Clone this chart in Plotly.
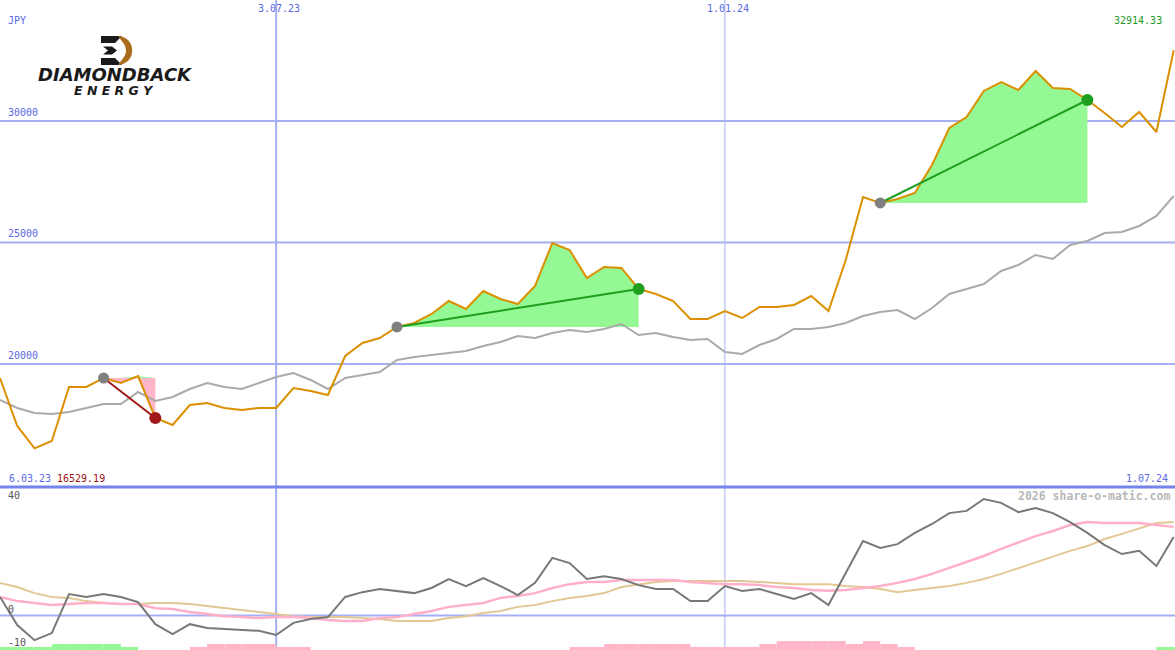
import pandas as pd
import plotly.graph_objects as go

# ---------------- data ----------------
start_date = "2023-03-13"
n_weeks = 69
dates = pd.date_range(start_date, periods=n_weeks, freq="7D")

price = [19424, 17449, 16529.19, 16831, 19053, 19053, 19424, 19218, 19500, 17778,
         17490, 18313, 18395, 18189, 18107, 18189, 18189, 19012, 18889, 18724,
         20329, 20864, 21070, 21523, 21687, 22058, 22593, 22263, 23004, 22675,
         22469, 23210, 24979, 24691, 23539, 23992, 23951, 23086, 22881, 22593,
         21852, 21852, 22181, 21893, 22346, 22346, 22428, 22798, 22181, 24280,
         26872, 26626, 26790, 27037, 28189, 29712, 30165, 31235, 31605, 31276,
         32058, 31358, 31317, 30864, 30329, 29753, 30370, 29547, 32914.33]

avg = [18519, 18189, 17984, 17942, 18025, 18189, 18354, 18354, 18848, 18477,
       18642, 18971, 19218, 19053, 18971, 19218, 19465, 19630, 19342, 18971,
       19424, 19547, 19671, 20165, 20288, 20370, 20453, 20535, 20741, 20905,
       21152, 21070, 21276, 21399, 21317, 21440, 21646, 21193, 21276, 21111,
       20988, 21029, 20494, 20412, 20782, 21029, 21440, 21440, 21523, 21687,
       21975, 22140, 22222, 21852, 22305, 22881, 23086, 23292, 23827, 24074,
       24486, 24321, 24897, 25062, 25391, 25432, 25679, 26091, 26914]

osc = [5.8, -3.0, -7.7, -5.5, 6.7, 5.8, 6.7, 5.8, 4.2, -2.7,
       -5.8, -2.7, -3.9, -4.2, -4.5, -4.8, -6.1, -2.3, -1.1, -0.5,
       5.8, 7.3, 8.3, 7.7, 7.0, 8.6, 11.4, 9.2, 11.7, 9.2,
       6.4, 10.2, 18.0, 16.4, 11.4, 12.3, 11.4, 9.5, 8.3, 8.3,
       4.5, 4.5, 9.2, 7.7, 8.3, 6.7, 5.2, 7.0, 3.3, 13.3,
       23.3, 21.1, 22.3, 25.8, 28.6, 32.0, 32.7, 36.4, 35.2, 32.3,
       33.6, 32.0, 29.2, 25.8, 22.0, 19.2, 20.2, 15.5, 24.5]

osc_fast = [5.8, 4.5, 3.9, 3.3, 3.6, 3.9, 3.9, 3.6, 3.6, 2.3,
            2.0, 1.1, 0.5, -0.2, -0.5, -0.8, -0.5, -0.5, -0.8, -1.4,
            -1.7, -1.7, -0.8, -0.5, 0.5, 1.4, 2.7, 3.3, 3.9, 5.5,
            6.1, 7.0, 8.6, 9.8, 10.5, 10.5, 11.1, 11.1, 11.1, 11.1,
            10.5, 10.2, 9.8, 9.8, 9.5, 8.9, 8.6, 8.0, 7.7, 8.0,
            8.6, 9.2, 10.2, 11.4, 13.0, 14.8, 16.7, 18.6, 20.8, 22.7,
            24.8, 26.4, 28.3, 29.2, 28.9, 28.9, 28.9, 28.3, 27.7]

osc_slow = [10.2, 8.9, 7.0, 5.8, 5.5, 4.5, 3.9, 3.6, 3.6, 3.9,
            3.9, 3.6, 3.0, 2.3, 1.7, 1.1, 0.5, -0.2, -0.5, -0.5,
            -0.5, -0.8, -1.1, -1.7, -1.7, -1.7, -0.8, -0.2, 0.8, 1.4,
            2.7, 3.3, 4.5, 5.5, 6.1, 7.0, 8.9, 9.8, 10.5, 10.8,
            10.8, 10.8, 10.8, 10.8, 10.5, 10.2, 9.8, 9.8, 9.8, 9.2,
            8.9, 8.3, 7.3, 8.0, 8.6, 9.2, 10.2, 11.4, 13.0, 14.8,
            16.4, 18.3, 20.2, 21.7, 23.9, 25.5, 27.3, 28.9, 29.2]

bars_green = [1, 1, 1, 2, 2, 2, 2, 1, 0, 0,
              0, 0, 0, 0, 0, 0, 0, 0, 0, 0,
              0, 0, 0, 0, 0, 0, 0, 0, 0, 0,
              0, 0, 0, 0, 0, 0, 0, 0, 0, 0,
              0, 0, 0, 0, 0, 0, 0, 0, 0, 0,
              0, 0, 0, 0, 0, 0, 0, 0, 0, 0,
              0, 0, 0, 0, 0, 0, 0, 1, 1]

bars_pink = [0, 0, 0, 0, 0, 0, 0, 0, 0, 0,
             0, 1, 2, 2, 2, 2, 1, 1, 0, 0,
             0, 0, 0, 0, 0, 0, 0, 0, 0, 0,
             0, 0, 0, 1, 1, 2, 2, 2, 2, 2,
             1, 1, 1, 1, 2, 3, 3, 3, 3, 2,
             3, 2, 1, 0, 0, 0, 0, 0, 0, 0,
             0, 0, 0, 0, 0, 0, 0, 0, 0]

# trades: (entry index, exit index)
trades = [(6, 9), (23, 37), (51, 63)]

grid_levels = [20000, 25000, 30000]
grid_labels = ["20000", "25000", "30000"]
osc_labels = ["40", "0", "-10"]
top_ticks = ["2023-07-03", "2024-01-01"]
top_tick_labels = ["3.07.23", "1.01.24"]
start_label = "6.03.23"
end_label = "1.07.24"
currency = "JPY"
min_label = "16529.19"
max_label = "32914.33"
credit = "2026 share-o-matic.com"

for arr in (price, avg, osc, osc_fast, osc_slow, bars_green, bars_pink):
    assert len(arr) == n_weeks

# ---------------- layout helpers ----------------
W, H = 1175, 650
SPLIT = 487  # pixel row of panel separator
px_per_week = 17.26
def fx(x):
    return x / W
def fy(y):
    return 1 - y / H

x_start = pd.Timestamp(start_date)
x_end = x_start + pd.Timedelta(days=W / px_per_week * 7)

BLUE = "#5a68e6"
GRID = "#a4b0f2"
ORANGE = "#dc9000"
GREEN_FILL = "#94f894"
PINK_FILL = "#ffb6c8"

fig = go.Figure()

# trade fills
for a, b in trades:
    seg_x = list(dates[a:b + 1])
    seg_p = price[a:b + 1]
    entry = price[a]
    up = [max(p, entry) for p in seg_p]
    lo = [min(p, entry) for p in seg_p]
    if any(p > entry for p in seg_p):
        fig.add_trace(go.Scatter(x=seg_x + seg_x[::-1], y=up + [entry] * len(seg_x),
                                 fill="toself", fillcolor=GREEN_FILL, mode="lines",
                                 line=dict(width=0), hoverinfo="skip", showlegend=False,
                                 xaxis="x", yaxis="y"))
    if any(p < entry for p in seg_p):
        fig.add_trace(go.Scatter(x=seg_x + seg_x[::-1], y=lo + [entry] * len(seg_x),
                                 fill="toself", fillcolor=PINK_FILL, mode="lines",
                                 line=dict(width=0), hoverinfo="skip", showlegend=False,
                                 xaxis="x", yaxis="y"))

# moving average and price
fig.add_trace(go.Scatter(x=dates, y=avg, mode="lines", line=dict(color="#aaaaaa", width=2),
                         showlegend=False, xaxis="x", yaxis="y"))
fig.add_trace(go.Scatter(x=dates, y=price, mode="lines", line=dict(color=ORANGE, width=2),
                         showlegend=False, xaxis="x", yaxis="y"))

# trade lines and dots
for a, b in trades:
    win = price[b] > price[a]
    col = "#1f9e1f" if win else "#a01818"
    fig.add_trace(go.Scatter(x=[dates[a], dates[b]], y=[price[a], price[b]], mode="lines",
                             line=dict(color=col, width=2), showlegend=False,
                             xaxis="x", yaxis="y"))
    fig.add_trace(go.Scatter(x=[dates[a]], y=[price[a]], mode="markers",
                             marker=dict(color="#808080", size=11), showlegend=False,
                             xaxis="x", yaxis="y"))
    fig.add_trace(go.Scatter(x=[dates[b]], y=[price[b]], mode="markers",
                             marker=dict(color=col, size=12), showlegend=False,
                             xaxis="x", yaxis="y"))

# bottom bars
week_ms = 7 * 24 * 3600 * 1000
fig.add_trace(go.Bar(x=dates, y=bars_green, marker=dict(color="#94f894", line=dict(width=0)),
                     width=week_ms, offset=0, showlegend=False, xaxis="x", yaxis="y2"))
fig.add_trace(go.Bar(x=dates, y=bars_pink, marker=dict(color="#ffb6c8", line=dict(width=0)),
                     width=week_ms, offset=0, showlegend=False, xaxis="x", yaxis="y2"))

# oscillator lines
fig.add_trace(go.Scatter(x=dates, y=osc_slow, mode="lines", line=dict(color="#e2c894", width=2),
                         showlegend=False, xaxis="x", yaxis="y3"))
fig.add_trace(go.Scatter(x=dates, y=osc_fast, mode="lines", line=dict(color="#ffb0c8", width=2.5),
                         showlegend=False, xaxis="x", yaxis="y3"))
fig.add_trace(go.Scatter(x=dates, y=osc, mode="lines", line=dict(color="#787878", width=2),
                         showlegend=False, xaxis="x", yaxis="y3"))

dom_split = 1 - SPLIT / H

shapes = []
for lvl in grid_levels:
    shapes.append(dict(type="line", xref="paper", x0=0, x1=1, yref="y", y0=lvl, y1=lvl,
                       line=dict(color=GRID, width=2), layer="below"))
shapes.append(dict(type="line", xref="paper", x0=0, x1=1, yref="y3", y0=0, y1=0,
                   line=dict(color=GRID, width=2), layer="below"))
for i, t in enumerate(top_ticks):
    shapes.append(dict(type="line", xref="x", x0=t, x1=t, yref="paper", y0=0, y1=1,
                       line=dict(color=GRID, width=2 if i == 0 else 1), layer="below"))
shapes.append(dict(type="line", xref="paper", x0=0, x1=1, yref="paper", y0=dom_split, y1=dom_split,
                   line=dict(color="#7484ea", width=3)))

# logo (Diamondback Energy)
def path(points):
    return "M " + " L ".join(f"{fx(x):.5f},{fy(y):.5f}" for x, y in points) + " Z"
black = "#1a1a1a"
shapes.append(dict(type="path", xref="paper", yref="paper", path=path([(101, 36), (122, 36), (115, 43), (101, 43)]),
                   fillcolor=black, line=dict(width=0)))
shapes.append(dict(type="path", xref="paper", yref="paper", path=path([(103, 46.5), (112, 46.5), (117, 50.5), (112, 54.5), (103, 54.5), (108, 50.5)]),
                   fillcolor=black, line=dict(width=0)))
shapes.append(dict(type="path", xref="paper", yref="paper", path=path([(101, 58), (115, 58), (122, 65), (101, 65)]),
                   fillcolor=black, line=dict(width=0)))
d_path = (f"M {fx(118):.5f},{fy(36):.5f} C {fx(137):.5f},{fy(37):.5f} {fx(137):.5f},{fy(64):.5f} {fx(118):.5f},{fy(65):.5f} "
          f"L {fx(124):.5f},{fy(57):.5f} Q {fx(128):.5f},{fy(50.5):.5f} {fx(124):.5f},{fy(44):.5f} Z")
shapes.append(dict(type="path", xref="paper", yref="paper", path=d_path,
                   fillcolor="#a86c1c", line=dict(width=0)))

mono = "DejaVu Sans Mono"
ann = []
def label(text, x, y, color, anchor="left", size=10, family=mono, pad=1):
    ann.append(dict(text=text, xref="paper", yref="paper", x=fx(x), y=fy(y), xanchor=anchor,
                    yanchor="middle", showarrow=False, borderpad=pad,
                    font=dict(family=family, size=size, color=color)))

label(currency, 6, 21, BLUE)
for t, txt in zip(top_ticks, top_tick_labels):
    ann.append(dict(text=txt, xref="x", yref="paper", x=t, y=fy(9), xanchor="center", yanchor="middle",
                    xshift=3, showarrow=False, font=dict(family=mono, size=10, color=BLUE)))
for lvl, txt in zip(grid_levels, grid_labels):
    ann.append(dict(text=txt, xref="paper", yref="y", y=lvl, x=fx(6), xanchor="left", yanchor="bottom",
                    yshift=1, showarrow=False, font=dict(family=mono, size=10, color=BLUE)))
label(max_label, 1164, 21, "#1f9a1f", anchor="right")
label(start_label, 7, 478, BLUE)
label(min_label, 55, 478, "#a01010")
label(end_label, 1170, 478, BLUE, anchor="right")
label("<b>" + credit + "</b>", 1172, 496, "#b8b8b8", anchor="right", size=11.5)
label(osc_labels[0], 6, 495, "#555555")
label(osc_labels[1], 6, 609, "#555555")
label(osc_labels[2], 6, 642, "#555555")
label("<b><i>DIAMONDBACK</i></b>", 115, 74.5, black, anchor="center", size=18, family="DejaVu Sans", pad=0)
label("<b><i>E N E R G Y</i></b>", 114, 90.5, black, anchor="center", size=12.5, family="DejaVu Sans", pad=0)

fig.update_layout(
    width=W, height=H,
    margin=dict(l=0, r=0, t=0, b=0),
    paper_bgcolor="#ffffff", plot_bgcolor="#ffffff",
    showlegend=False, barmode="overlay",
    xaxis=dict(range=[x_start, x_end], visible=False, showgrid=False, zeroline=False),
    yaxis=dict(domain=[dom_split, 1], range=[14938, 34979], visible=False, showgrid=False, zeroline=False),
    yaxis2=dict(domain=[0, dom_split], range=[0, (H - SPLIT) / 3.0], visible=False, showgrid=False, zeroline=False),
    yaxis3=dict(domain=[0, dom_split], overlaying="y2", range=[-10.78, 40.16], visible=False,
                showgrid=False, zeroline=False),
    shapes=shapes, annotations=ann,
)

fig.write_html("out.html", config={"displayModeBar": False},
               post_script="document.body.style.margin='0px';document.body.style.overflow='hidden';")
